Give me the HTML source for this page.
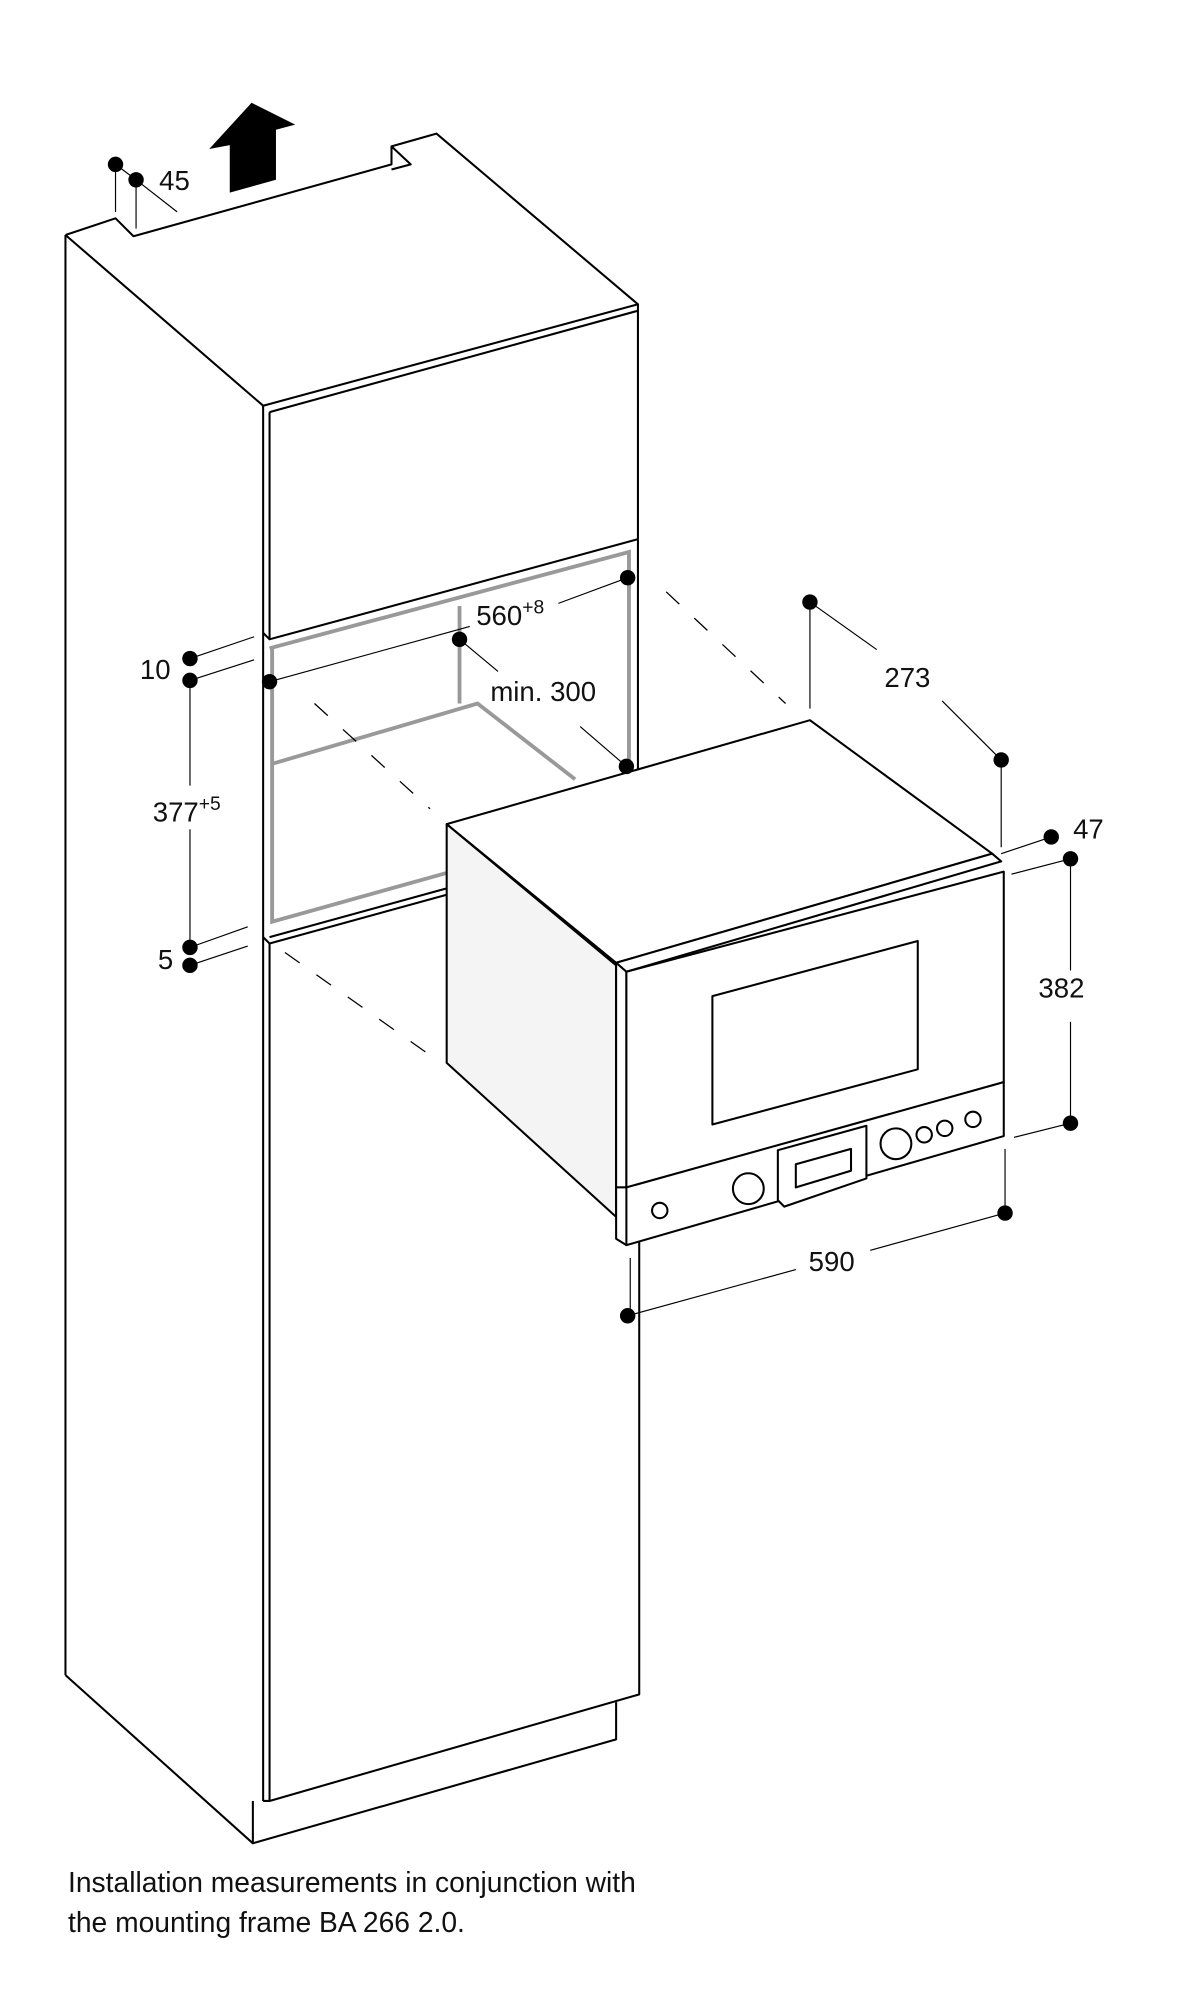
<!DOCTYPE html>
<html><head><meta charset="utf-8"><style>
html,body{margin:0;padding:0;background:#fff;}
svg{display:block;}
text{font-family:"Liberation Sans",sans-serif;fill:#111;}
</style></head><body>
<svg width="1204" height="2000" viewBox="0 0 938 1558" xmlns="http://www.w3.org/2000/svg">
<g fill="none" stroke="#000" stroke-width="1.6" stroke-linejoin="round">
<polyline fill="#fff" points="51,183 90,170 104,184 305,128 305,114 340,104 497,237"/>
<polyline points="305,114 320,128 305,132"/>
<line x1="51" y1="183" x2="51" y2="1305"/>
<line x1="51" y1="183" x2="205" y2="316"/>
<polyline points="51,1305 197,1436 480,1355 480,1326"/>
<line x1="197" y1="1436" x2="197" y2="1403"/>
<line x1="205" y1="316" x2="205" y2="1403"/>
<polyline points="205,316 497,237 497,420"/>
<polyline points="210,321 497,242"/>
<line x1="210" y1="321" x2="210" y2="498"/>
<polyline points="205,493 210,498 497,420"/>
<line x1="497" y1="420" x2="497" y2="600"/>
<polyline points="205,730 210,735 348,697"/>
<line x1="210" y1="730" x2="348" y2="692"/>
<line x1="210" y1="735" x2="210" y2="1403"/>
<polyline points="205,1403 210,1403 498,1320 498,660"/>
</g>
<g fill="none" stroke="#999" stroke-width="3">
<polyline points="210,505 490,430 490,598"/>
<polyline points="212,505 212,718 348,680"/>
<line x1="358" y1="472" x2="358" y2="548"/>
<polyline points="212,595 372,548 448,607"/>
</g>
<g stroke="#000" stroke-width="1" stroke-dasharray="14,16">
<line x1="245" y1="548" x2="335" y2="630"/>
<line x1="222" y1="742" x2="335" y2="822"/>
<line x1="519" y1="461" x2="612" y2="548"/>
</g>
<polygon points="179,150 179,113 163,116 196,80 230,97 215,101 215,140" fill="#000"/>
<g stroke="#000" stroke-width="1.6" stroke-linejoin="round">
<polygon fill="#fff" points="348,642 631,561 773,665 480,750"/>
<polygon fill="#f4f4f4" points="348,642 480,752 480,948 348,828"/>
<polygon fill="#fff" points="480,750 773,665 780,671 488,757"/>
<polygon fill="#fff" points="480,750 488,757 488,925 480,925"/>
<polygon fill="#fff" points="488,757 782,679 782,843 488,926"/>
<polygon fill="none" points="555,776 715,733 715,833 555,876"/>
<polygon fill="#fff" points="480,925 488,925 782,843 782,885 488,970 480,965"/>
<line x1="488" y1="925" x2="488" y2="970"/>
<polygon fill="#fff" points="606,896 675,877 675,918 611,940 606,935"/>
<polygon fill="none" points="620,907 663,895 663,912 620,925"/>
<circle cx="583" cy="926" r="12" fill="#fff"/>
<circle cx="698" cy="891" r="12" fill="#fff"/>
<circle cx="514" cy="943" r="6" fill="#fff"/>
<circle cx="720" cy="884" r="6" fill="#fff"/>
<circle cx="736" cy="879" r="6" fill="#fff"/>
<circle cx="758" cy="872" r="6" fill="#fff"/>
</g>
<g stroke="#000" stroke-width="0.9" fill="none">
<line x1="90" y1="128" x2="90" y2="165"/><line x1="106" y1="140" x2="106" y2="178"/>
<line x1="90" y1="128" x2="106" y2="140"/><line x1="106" y1="140" x2="138" y2="165"/>
<line x1="148" y1="513" x2="198" y2="496"/><line x1="148" y1="530" x2="198" y2="514"/>
<line x1="148" y1="530" x2="148" y2="612"/><line x1="148" y1="646" x2="148" y2="738"/>
<line x1="148" y1="738" x2="193" y2="722"/><line x1="148" y1="752" x2="193" y2="737"/>
<line x1="210" y1="531" x2="366" y2="488"/><line x1="435" y1="470" x2="489" y2="450"/>
<line x1="358" y1="498" x2="388" y2="523"/><line x1="452" y1="566" x2="488" y2="597"/>
<line x1="631" y1="469" x2="631" y2="552"/><line x1="631" y1="469" x2="683" y2="506"/>
<line x1="734" y1="546" x2="780" y2="592"/><line x1="780" y1="592" x2="780" y2="660"/>
<line x1="780" y1="665" x2="819" y2="652"/>
<line x1="788" y1="681" x2="834" y2="669"/><line x1="834" y1="669" x2="834" y2="756"/>
<line x1="834" y1="796" x2="834" y2="875"/><line x1="790" y1="886" x2="834" y2="875"/>
<line x1="783" y1="895" x2="783" y2="945"/><line x1="491" y1="980" x2="491" y2="1025"/>
<line x1="489" y1="1025" x2="620" y2="989"/><line x1="678" y1="974" x2="783" y2="945"/>
</g>
<g fill="#000">
<circle cx="90" cy="128" r="6"/><circle cx="106" cy="140" r="6"/>
<circle cx="148" cy="513" r="6"/><circle cx="148" cy="530" r="6"/>
<circle cx="148" cy="738" r="6"/><circle cx="148" cy="752" r="6"/>
<circle cx="210" cy="531" r="6"/><circle cx="489" cy="450" r="6"/>
<circle cx="358" cy="498" r="6"/><circle cx="488" cy="597" r="6"/>
<circle cx="631" cy="469" r="6"/><circle cx="780" cy="592" r="6"/>
<circle cx="819" cy="652" r="6"/><circle cx="834" cy="669" r="6"/>
<circle cx="834" cy="875" r="6"/><circle cx="783" cy="945" r="6"/>
<circle cx="489" cy="1025" r="6"/>
</g>
<g font-size="21.5">
<text x="124" y="148">45</text>
<text x="109" y="529">10</text>
<text x="119" y="640">377<tspan font-size="15" dy="-9">+5</tspan></text>
<text x="123" y="755">5</text>
<text x="371" y="487">560<tspan font-size="15" dy="-9">+8</tspan></text>
<text x="382" y="546">min. 300</text>
<text x="689" y="535">273</text>
<text x="836" y="653">47</text>
<text x="809" y="777">382</text>
<text x="630" y="990">590</text>
</g>
<g font-size="22">
<text x="53" y="1474">Installation measurements in conjunction with</text>
<text x="53" y="1505">the mounting frame BA 266 2.0.</text>
</g>
</svg>
</body></html>
